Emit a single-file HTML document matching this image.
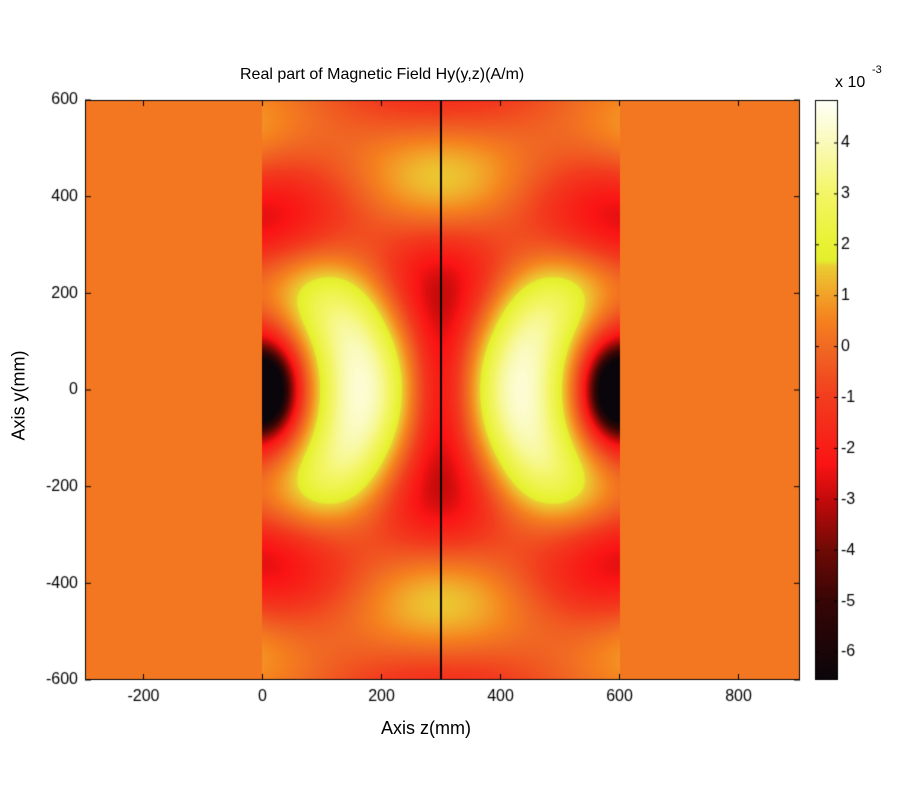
<!DOCTYPE html>
<html><head><meta charset="utf-8"><style>
body{margin:0;background:#fff;width:900px;height:800px;overflow:hidden;font-family:"Liberation Sans",Arial,sans-serif;}
canvas{position:absolute;left:0;top:0}
.t{position:absolute;font-size:16px;color:#000;white-space:nowrap}
</style></head><body>
<canvas id="c" width="900" height="800"></canvas>
<div class="t" style="left:240px;top:66px;font-size:16px">Real part of Magnetic Field Hy(y,z)(A/m)</div>
<div class="t" style="left:381px;top:718px;font-size:18px">Axis z(mm)</div>
<div class="t" style="left:-36px;top:385px;font-size:18px;transform:rotate(-90deg);transform-origin:center;width:110px;text-align:center">Axis y(mm)</div>
<div class="t" style="left:835px;top:74px;font-size:16px">x 10</div>
<div class="t" style="left:872px;top:64px;font-size:11px">-3</div>
<script>
const c=document.getElementById('c'),g=c.getContext('2d');
const L=85,R=800,T=100,B=680;
const stops=[[-6.55,[10,5,10]],[-5,[55,5,5]],[-4,[110,10,5]],[-3,[195,10,10]],[-2.3,[250,20,20]],[-1,[242,60,30]],[0,[240,105,35]],[0.5,[245,128,30]],[1,[242,160,40]],[1.6,[235,205,50]],[1.7,[228,238,45]],[2,[232,242,50]],[3,[243,245,100]],[4,[250,250,185]],[4.85,[255,255,250]]];
function col(v){if(v<=stops[0][0])return stops[0][1];for(let i=1;i<stops.length;i++){if(v<=stops[i][0]){const a=stops[i-1],b=stops[i],t=(v-a[0])/(b[0]-a[0]);return a[1].map((x,k)=>Math.round(x+(b[1][k]-x)*t));}}return stops[stops.length-1][1];}
function src(dz,dy){
 const r=Math.sqrt(dz*dz+dy*dy)+1e-6;
 const W=1.6*(300/Math.max(r,300));
 let v=W*Math.cos(2*Math.PI*(r-200)/340);
 v+=3.8*Math.exp(-Math.pow((dz-165)/95,2)-Math.pow(dy/175,2));
 v-=7.5*Math.exp(-Math.pow(dz/45,2)-Math.pow(dy/75,2));
 v-=2*Math.exp(-Math.pow(dz/80,2)-Math.pow(dy/250,2));
 return v;}
const img=g.createImageData(R-L,B-T);
for(let py=T;py<B;py++)for(let px=L;px<R;px++){
 const z=-300+(px+0.5-84)*200/119,y=(390-py)*600/290;
 let v=0.3;
 if(z>=0&&z<=600){v=src(z,y)+src(600-z,y)-0.3-1.8*Math.exp(-Math.pow((z-300)/50,2)-Math.pow(y/150,2));}
 const cc=col(v),i=((py-T)*(R-L)+(px-L))*4;img.data[i]=cc[0];img.data[i+1]=cc[1];img.data[i+2]=cc[2];img.data[i+3]=255;}
g.putImageData(img,L,T);
g.fillStyle='#000';g.fillRect(440,T,2,B-T);
const CL=815,CR=838;
for(let py=T;py<B;py++){const v=4.85-(py-T)*(11.4/(B-T));const cc=col(v);g.fillStyle=`rgb(${cc})`;g.fillRect(CL,py,CR-CL,1);}
g.strokeStyle='#000';g.lineWidth=1;
g.strokeRect(L+0.5,T+0.5,R-L-1,B-T-1);g.strokeRect(CL+0.5,T+0.5,CR-CL-1,B-T-1);
g.font='16px "Liberation Sans",Arial,sans-serif';g.fillStyle='#000';
g.textAlign='center';g.textBaseline='top';
[-200,0,200,400,600,800].forEach(zv=>{const x=84+(zv+300)*119/200;g.beginPath();g.moveTo(x,B);g.lineTo(x,B-6);g.moveTo(x,T);g.lineTo(x,T+6);g.stroke();g.fillText(zv,x,689);});
g.textAlign='right';g.textBaseline='middle';
[600,400,200,0,-200,-400,-600].forEach(yv=>{const y=390-yv*290/600;g.beginPath();g.moveTo(L,y);g.lineTo(L+6,y);g.moveTo(R,y);g.lineTo(R-6,y);g.stroke();g.fillText(yv,78,y);});
g.textAlign='left';
for(let v=-6;v<=4;v++){const y=143+(4-v)*50.9;g.beginPath();g.moveTo(CL,y);g.lineTo(CL+4,y);g.moveTo(CR,y);g.lineTo(CR-4,y);g.stroke();g.fillText(v,841,y);}
</script>
</body></html>
